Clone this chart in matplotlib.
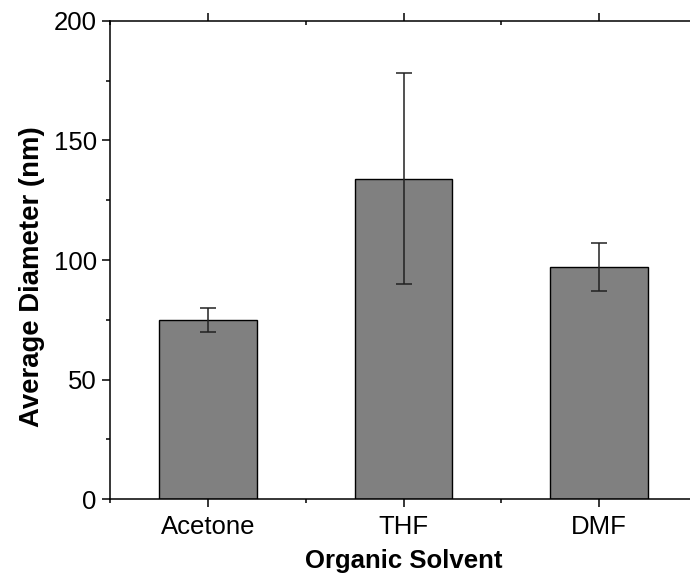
import numpy as np
import matplotlib
matplotlib.use("Agg")
import matplotlib.pyplot as plt
from matplotlib.ticker import MultipleLocator

# 数据
solvents = ["Acetone", "THF", "DMF"]
diameters = [75, 134, 97]
errors = [5, 44, 10]

plt.rcParams['font.family'] = ['Liberation Sans', 'DejaVu Sans']

fig = plt.figure(figsize=(6.9, 5.75), dpi=100)
# 右边框在画布外侧一点（原图被裁掉）
ax = fig.add_axes([110 / 690, 1 - 499.3 / 575, 587 / 690, (499.3 - 20.7) / 575])

x = np.arange(1, len(solvents) + 1)
ax.bar(x, diameters, width=0.5, color='#808080', edgecolor='black', linewidth=1.0)
ax.errorbar(x, diameters, yerr=errors, fmt='none', ecolor='#222222',
            elinewidth=1.1, capsize=6, capthick=1.1)

ax.set_xlim(0.5, 3.5)
ax.set_ylim(0, 200)
ax.set_xticks(x)
ax.set_xticklabels(solvents)
ax.xaxis.set_minor_locator(MultipleLocator(1.0, offset=0.5))
ax.yaxis.set_major_locator(MultipleLocator(50))
ax.yaxis.set_minor_locator(MultipleLocator(25))

for s in ax.spines.values():
    s.set_linewidth(1.1)

ax.tick_params(axis='both', which='major', labelsize=18.5, width=1.1, length=5.5)
ax.tick_params(axis='both', which='minor', width=1.1, length=2.8)
ax.tick_params(bottom=True, left=True, direction='out', which='both')
ax.tick_params(top=True, right=True, labeltop=False, labelright=False, which='both')
# 上/右刻度朝内
for t in ax.xaxis.get_major_ticks() + ax.xaxis.get_minor_ticks():
    t.tick2line.set_marker(matplotlib.lines.TICKDOWN)
for t in ax.yaxis.get_major_ticks() + ax.yaxis.get_minor_ticks():
    t.tick2line.set_marker(matplotlib.lines.TICKLEFT)
ax.tick_params(axis='x', which='major', pad=6)
ax.tick_params(axis='y', which='major', pad=4)

ax.set_xlabel('Organic Solvent', fontsize=18.5, fontweight='bold', labelpad=7)
ax.set_ylabel('Average Diameter (nm)', fontsize=19.8, fontweight='bold')
ax.yaxis.set_label_coords(-0.111, 0.4645)

fig.savefig('out.png', dpi=100)
